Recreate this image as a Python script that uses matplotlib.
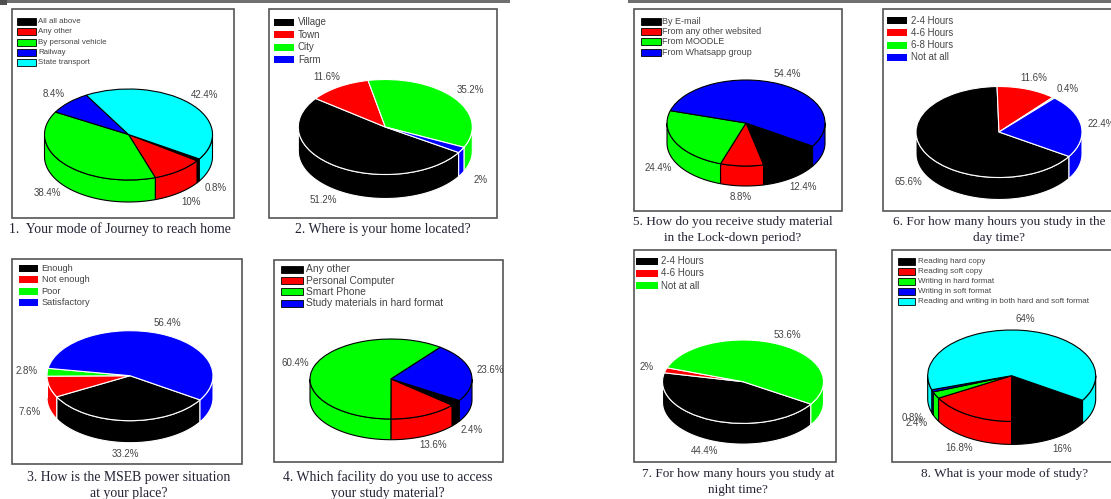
#!/usr/bin/env python3
# Eight survey results as tilted "3D" pies, laid out like the scanned page
import numpy as np
import matplotlib
matplotlib.use('Agg')
import matplotlib.pyplot as plt
from matplotlib.patches import Rectangle

W, H = 1111, 499
BLACK, RED, GREEN, BLUE, CYAN = '#000000', '#ff0000', '#00ff00', '#0000ff', '#00ffff'
SANS = 'Liberation Sans'
SERIF = 'Liberation Serif'

## DATA ##
labels_1 = ['All all above', 'Any other', 'By personal vehicle', 'Railway', 'State transport']
values_1 = [0.8, 10, 38.4, 8.4, 42.4]
colors_1 = [BLACK, RED, GREEN, BLUE, CYAN]

labels_2 = ['Village', 'Town', 'City', 'Farm']
values_2 = [51.2, 11.6, 35.2, 2]
colors_2 = [BLACK, RED, GREEN, BLUE]

labels_3 = ['Enough', 'Not enough', 'Poor', 'Satisfactory']
values_3 = [33.2, 7.6, 2.8, 56.4]
colors_3 = [BLACK, RED, GREEN, BLUE]

labels_4 = ['Any other', 'Personal Computer', 'Smart Phone', 'Study materials in hard format']
values_4 = [2.4, 13.6, 60.4, 23.6]
colors_4 = [BLACK, RED, GREEN, BLUE]

labels_5 = ['By E-mail', 'From any other websited', 'From MOODLE', 'From Whatsapp group']
values_5 = [12.4, 8.8, 24.4, 54.4]
colors_5 = [BLACK, RED, GREEN, BLUE]

labels_6 = ['2-4 Hours', '4-6 Hours', '6-8 Hours', 'Not at all']
values_6 = [65.6, 11.6, 0.4, 22.4]
colors_6 = [BLACK, RED, GREEN, BLUE]

labels_7 = ['2-4 Hours', '4-6 Hours', 'Not at all']
values_7 = [44.4, 2, 53.6]
colors_7 = [BLACK, RED, GREEN]

labels_8 = ['Reading hard copy', 'Reading soft copy', 'Writing in hard format', 'Writing in soft format',
            'Reading and writing in both hard and soft format']
values_8 = [16, 16.8, 2.4, 0.8, 64]
colors_8 = [BLACK, RED, GREEN, BLUE, CYAN]

captions = [
    ['1.  Your mode of Journey to reach home'],
    ['2. Where is your home located?'],
    ['3. How is the MSEB power situation', 'at your place?'],
    ['4. Which facility do you use to access', 'your study material?'],
    ['5. How do you receive study material', 'in the Lock-down period?'],
    ['6. For how many hours you study in the', 'day time?'],
    ['7. For how many hours you study at', 'night time?'],
    ['8. What is your mode of study?'],
]

## LAYOUT (all pixels on the page) ##
# frame x0,y0,x1,y1
frames = [(12, 9, 234, 218), (269, 9, 497, 218), (12, 259, 242, 464), (274, 260, 503, 462),
          (634, 9, 842, 211), (883, 9, 1114, 211), (634, 250, 836, 462), (892, 250, 1114, 462)]
# pie centre x,y, radii x,y, wall depth
pies = [(128.5, 134.5, 84, 45.5, 22), (385.3, 127, 87, 47.5, 24), (130, 375.7, 83, 45, 22),
        (391, 379, 81, 40, 20.7), (746, 123, 79, 43, 20), (999, 132, 83, 45.5, 22),
        (743, 381.7, 80.5, 41.7, 20.7), (1011.7, 375.7, 84, 45.7, 23)]
# swatch x0,x1, first row y, row step, text x, font size
legends = [(17, 36, 21.7, 10.2, 38.5, 5.7), (274, 294.3, 22, 12.5, 298, 7),
           (19, 38, 268.3, 11.4, 41.5, 6.7), (280.7, 303, 269.3, 11.3, 306, 7.4),
           (640.7, 660.7, 21, 10.4, 662.5, 6.5), (886.7, 907, 20.7, 12.2, 911, 6.9),
           (636, 657.7, 261, 12.3, 661, 7), (897.7, 915.3, 261.7, 10, 918, 5.8)]
# caption centre x, first line y, font size
caption_pos = [(120, 229, 9.9), (382.5, 229, 9.9), (129, 477, 9.9), (388, 477, 9.9),
               (732.5, 221.7, 9.5), (999, 222, 9.5), (738, 474, 9.5), (1004.5, 474, 9.5)]
# the black-heavy pies were drawn with white outlines
edge_colors = [BLACK, 'white', 'white', BLACK, BLACK, 'white', 'white', BLACK]

all_labels = [labels_1, labels_2, labels_3, labels_4, labels_5, labels_6, labels_7, labels_8]
all_values = [values_1, values_2, values_3, values_4, values_5, values_6, values_7, values_8]
all_colors = [colors_1, colors_2, colors_3, colors_4, colors_5, colors_6, colors_7, colors_8]


# draw the front wall of one slice, only the parts on the lower half of the ellipse
def draw_wall(ax, t1, t2, depth, color, edge):
    for n in range(-3, 2):
        a = max(t1, 180 + 360 * n)
        b = min(t2, 360 + 360 * n)
        if b <= a:
            continue
        th = np.radians(np.linspace(a, b, 60))
        xs = np.cos(th)
        ys = np.sin(th)
        ax.fill(np.concatenate((xs, xs[::-1])), np.concatenate((ys, ys[::-1] - depth)),
                facecolor=color, edgecolor=edge, lw=0.8, zorder=0.5, clip_on=False)


def draw_pie(pie_pos, values, colors, edge):
    cx, cy, rx, ry, depth = pie_pos
    d = depth / ry
    rect = [(cx - rx) / W, 1 - (cy + ry + depth) / H, 2 * rx / W, (2 * ry + depth) / H]
    ax = fig.add_axes(rect)
    pct = [f'{v:g}%' for v in values]
    wedges, texts = ax.pie(values, labels=pct, colors=colors, startangle=-32.5, counterclock=False,
                           labeldistance=1.25,
                           wedgeprops=dict(edgecolor=edge, linewidth=0.8, clip_on=False),
                           textprops=dict(fontsize=7, family=SANS, color='#444444'))
    for w, t in zip(wedges, texts):
        draw_wall(ax, w.theta1, w.theta2, d, w.get_facecolor(), edge)
        # labels under the middle of the pie sit below the wall
        x, y = t.get_position()
        if y < 0:
            t.set_position((x, y - d))
        t.set_ha('center')
        t.set_va('center')
    ax.set_aspect('auto')
    ax.set_xlim(-1, 1)
    ax.set_ylim(-1 - d, 1)
    ax.axis('off')


fig = plt.figure(figsize=(W / 100, H / 100), dpi=100, facecolor='white')

# page layer in pixel coordinates
page = fig.add_axes([0, 0, 1, 1])
page.set_xlim(0, W)
page.set_ylim(H, 0)
page.axis('off')

# grey page edges along the top
page.add_patch(Rectangle((0, 0), 510, 3, fc='#707070', ec='none'))
page.add_patch(Rectangle((628, 0), W - 628, 3, fc='#707070', ec='none'))
page.add_patch(Rectangle((0, 0), 7, 5, fc='#505050', ec='none'))

for i in range(8):
    x0, y0, x1, y1 = frames[i]
    page.add_patch(Rectangle((x0, y0), x1 - x0, y1 - y0, fc='white', ec='#555555', lw=1.2))

    sx0, sx1, sy, step, tx, fs = legends[i]
    for k, (lab, col) in enumerate(zip(all_labels[i], all_colors[i])):
        yy = sy + k * step
        page.add_patch(Rectangle((sx0, yy - 3.5), sx1 - sx0, 7, fc=col,
                                 ec=BLACK if edge_colors[i] == BLACK else 'none', lw=0.6))
        page.text(tx, yy, lab, fontsize=fs, family=SANS, color='#444444', va='center', ha='left')

    ccx, ccy, cfs = caption_pos[i]
    for k, line in enumerate(captions[i]):
        page.text(ccx, ccy + k * 16, line, fontsize=cfs, family=SERIF, color='#222233',
                  va='center', ha='center')

    draw_pie(pies[i], all_values[i], all_colors[i], edge_colors[i])

fig.savefig('out.png', dpi=100)
